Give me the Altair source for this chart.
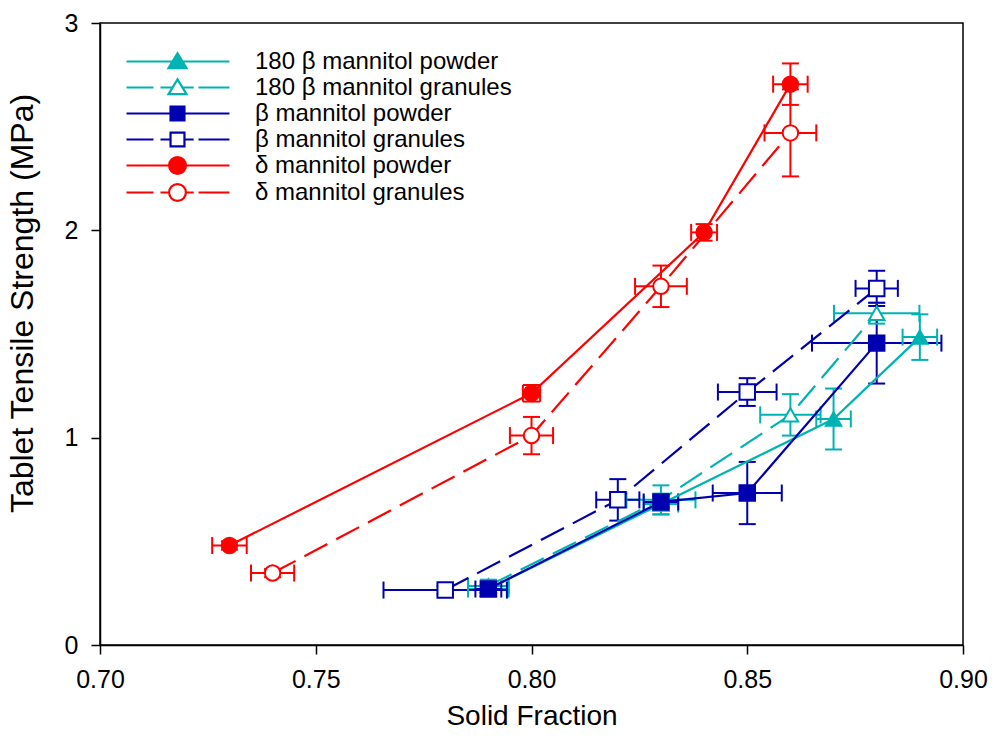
import altair as alt
import pandas as pd

# ---------------- data ----------------
SERIES = ["180 β mannitol powder", "180 β mannitol granules", "β mannitol powder",
          "β mannitol granules", "δ mannitol powder", "δ mannitol granules"]
FORM = ["powder", "granules", "powder", "granules", "powder", "granules"]
COLORS = ["#00B3B3", "#00B3B3", "#0000B0", "#0000B0", "#FF0000", "#FF0000"]
MARKERS = ["triangle-up", "triangle-up", "square", "square", "circle", "circle"]

# solid fraction (x), tensile strength (y), x error, y error
SF_180P = [0.79, 0.83, 0.87, 0.89]
TS_180P = [0.27, 0.68, 1.09, 1.485]
EX_180P = [0.0047, 0.004, 0.004, 0.004]
EY_180P = [0.02, 0.05, 0.147, 0.11]

SF_180G = [0.79, 0.83, 0.86, 0.88]
TS_180G = [0.285, 0.70, 1.11, 1.60]
EX_180G = [0.0047, 0.008, 0.007, 0.0099]
EY_180G = [0.03, 0.07, 0.10, 0.05]

SF_BP = [0.79, 0.83, 0.85, 0.88]
TS_BP = [0.27, 0.69, 0.733, 1.456]
EX_BP = [0.003, 0.004, 0.008, 0.015]
EY_BP = [0.02, 0.03, 0.15, 0.195]

SF_BG = [0.78, 0.82, 0.85, 0.88]
TS_BG = [0.265, 0.70, 1.22, 1.72]
EX_BG = [0.0143, 0.005, 0.0068, 0.0049]
EY_BG = [0.02, 0.10, 0.067, 0.085]

SF_DP = [0.73, 0.80, 0.84, 0.86]
TS_DP = [0.48, 1.214, 1.99, 2.705]
EX_DP = [0.004, 0.002, 0.003, 0.004]
EY_DP = [0.02, 0.04, 0.04, 0.10]

SF_DG = [0.74, 0.80, 0.83, 0.86]
TS_DG = [0.347, 1.01, 1.73, 2.47]
EX_DG = [0.005, 0.005, 0.006, 0.006]
EY_DG = [0.02, 0.09, 0.10, 0.21]

X_TICKS = [0.70, 0.75, 0.80, 0.85, 0.90]
Y_TICKS = [0, 1, 2, 3]

ALL = [(SF_180P, TS_180P, EX_180P, EY_180P), (SF_180G, TS_180G, EX_180G, EY_180G),
       (SF_BP, TS_BP, EX_BP, EY_BP), (SF_BG, TS_BG, EX_BG, EY_BG),
       (SF_DP, TS_DP, EX_DP, EY_DP), (SF_DG, TS_DG, EX_DG, EY_DG)]

rows, caps_y, caps_x = [], [], []
for i, (xs, ys, exs, eys) in enumerate(ALL):
    fillc = COLORS[i] if FORM[i] == "powder" else "#FFFFFF"
    for x, y, ex, ey in zip(xs, ys, exs, eys):
        rows.append(dict(series=SERIES[i], form=FORM[i], col=COLORS[i], fillc=fillc,
                         shape=MARKERS[i], sf=x, ts=y, xlo=x - ex, xhi=x + ex,
                         ylo=y - ey, yhi=y + ey))
        caps_y += [dict(col=COLORS[i], cx=x, cy=y - ey), dict(col=COLORS[i], cx=x, cy=y + ey)]
        caps_x += [dict(col=COLORS[i], cx=x - ex, cy=y), dict(col=COLORS[i], cx=x + ex, cy=y)]

df = pd.DataFrame(rows)
dcy = pd.DataFrame(caps_y)
dcx = pd.DataFrame(caps_x)

# ---------------- legend glyphs (line + marker) ----------------
CX = 3.25
MK = {
    "triangle-up": (f"M{CX},-0.68L{CX+0.75},0.55L{CX-0.75},0.55Z", 0.415),
    "square": (f"M{CX-0.58},-0.58H{CX+0.58}V0.58H{CX-0.58}Z", 0.58),
    "circle": (f"M{CX-0.7},0A0.7,0.7 0 1,0 {CX+0.7},0A0.7,0.7 0 1,0 {CX-0.7},0Z", 0.7),
}
paths = []
for i in range(6):
    mpath, half = MK[MARKERS[i]]
    if FORM[i] == "powder":
        line = "M-1,0H7.58"
    else:
        line = (f"M-1,0H1.25M1.83,0H{CX-half:.3f}M{CX+half:.3f},0H4.6M5.0,0H7.58")
    paths.append(line + mpath)

FILLS = [COLORS[i] if FORM[i] == "powder" else "#FFFFFF" for i in range(6)]

xscale = alt.Scale(domain=[0.70, 0.90], zero=False, nice=False)
yscale = alt.Scale(domain=[0, 3], nice=False)

xaxis = alt.Axis(title="Solid Fraction", values=X_TICKS, format=".2f", labelFlush=False)
yaxis = alt.Axis(title="Tablet Tensile Strength (MPa)", values=Y_TICKS, format="d",
                 titleY=280, labelFlush=False)

base = alt.Chart(df)

err_v = base.mark_rule(strokeWidth=2).encode(
    x=alt.X("sf:Q", scale=xscale, axis=xaxis),
    y=alt.Y("ylo:Q", scale=yscale, axis=yaxis),
    y2="yhi:Q",
    color=alt.Color("col:N", scale=None),
)
err_h = base.mark_rule(strokeWidth=2).encode(
    x=alt.X("xlo:Q", scale=xscale), x2="xhi:Q",
    y=alt.Y("ts:Q", scale=yscale),
    color=alt.Color("col:N", scale=None),
)
cap_y = alt.Chart(dcy).mark_tick(orient="horizontal", size=17, thickness=2, opacity=1).encode(
    x=alt.X("cx:Q", scale=xscale), y=alt.Y("cy:Q", scale=yscale),
    color=alt.Color("col:N", scale=None),
)
cap_x = alt.Chart(dcx).mark_tick(orient="vertical", size=17, thickness=2, opacity=1).encode(
    x=alt.X("cx:Q", scale=xscale), y=alt.Y("cy:Q", scale=yscale),
    color=alt.Color("col:N", scale=None),
)
line_solid = base.transform_filter(alt.datum.form == "powder").mark_line(strokeWidth=2.2).encode(
    x=alt.X("sf:Q", scale=xscale), y=alt.Y("ts:Q", scale=yscale),
    detail="series:N", color=alt.Color("col:N", scale=None),
)
line_dash = base.transform_filter(alt.datum.form == "granules").mark_line(
    strokeWidth=2.2, strokeDash=[26, 10]).encode(
    x=alt.X("sf:Q", scale=xscale), y=alt.Y("ts:Q", scale=yscale),
    detail="series:N", color=alt.Color("col:N", scale=None),
)
pts = base.mark_point(opacity=1, strokeWidth=2, size=240).encode(
    x=alt.X("sf:Q", scale=xscale), y=alt.Y("ts:Q", scale=yscale),
    shape=alt.Shape("shape:N", scale=None),
    fill=alt.Fill("fillc:N", scale=None),
    stroke=alt.Stroke("col:N", scale=None),
)
legend_layer = base.transform_filter("false").mark_point(opacity=1, strokeWidth=2, size=576).encode(
    x=alt.X("sf:Q", scale=xscale), y=alt.Y("ts:Q", scale=yscale),
    shape=alt.Shape("series:N", scale=alt.Scale(domain=SERIES, range=paths),
                    legend=alt.Legend(title=None)),
    fill=alt.Fill("series:N", scale=alt.Scale(domain=SERIES, range=FILLS),
                  legend=alt.Legend(title=None)),
    stroke=alt.Stroke("series:N", scale=alt.Scale(domain=SERIES, range=COLORS),
                      legend=alt.Legend(title=None)),
)

chart = alt.layer(err_v, err_h, cap_y, cap_x, line_solid, line_dash, pts, legend_layer).properties(
    width=863, height=622,
    autosize=alt.AutoSizeParams(type="none"),
    padding={"left": 100, "top": 23, "right": 29, "bottom": 104},
).configure_view(stroke="#000000", strokeWidth=1.5).configure_axis(
    grid=False, domainColor="#000000", domainWidth=1.5, tickColor="#000000",
    tickWidth=1.5, tickSize=9, labelFont="Liberation Sans", labelFontSize=25,
    labelColor="#000000", labelPadding=13, titleFont="Liberation Sans",
    titleFontWeight="normal", titleColor="#000000",
).configure_axisX(titlePadding=10, titleFontSize=28).configure_axisY(
    titlePadding=25, titleFontSize=32).configure_legend(
    orient="none", legendX=25, legendY=25, symbolSize=576, symbolStrokeWidth=2.2,
    labelFont="Liberation Sans", labelFontSize=24, labelColor="#000000",
    labelOffset=103, labelLimit=600, rowPadding=-1, padding=0,
)

chart.save("out.html", embed_options={"renderer": "svg", "actions": False})
